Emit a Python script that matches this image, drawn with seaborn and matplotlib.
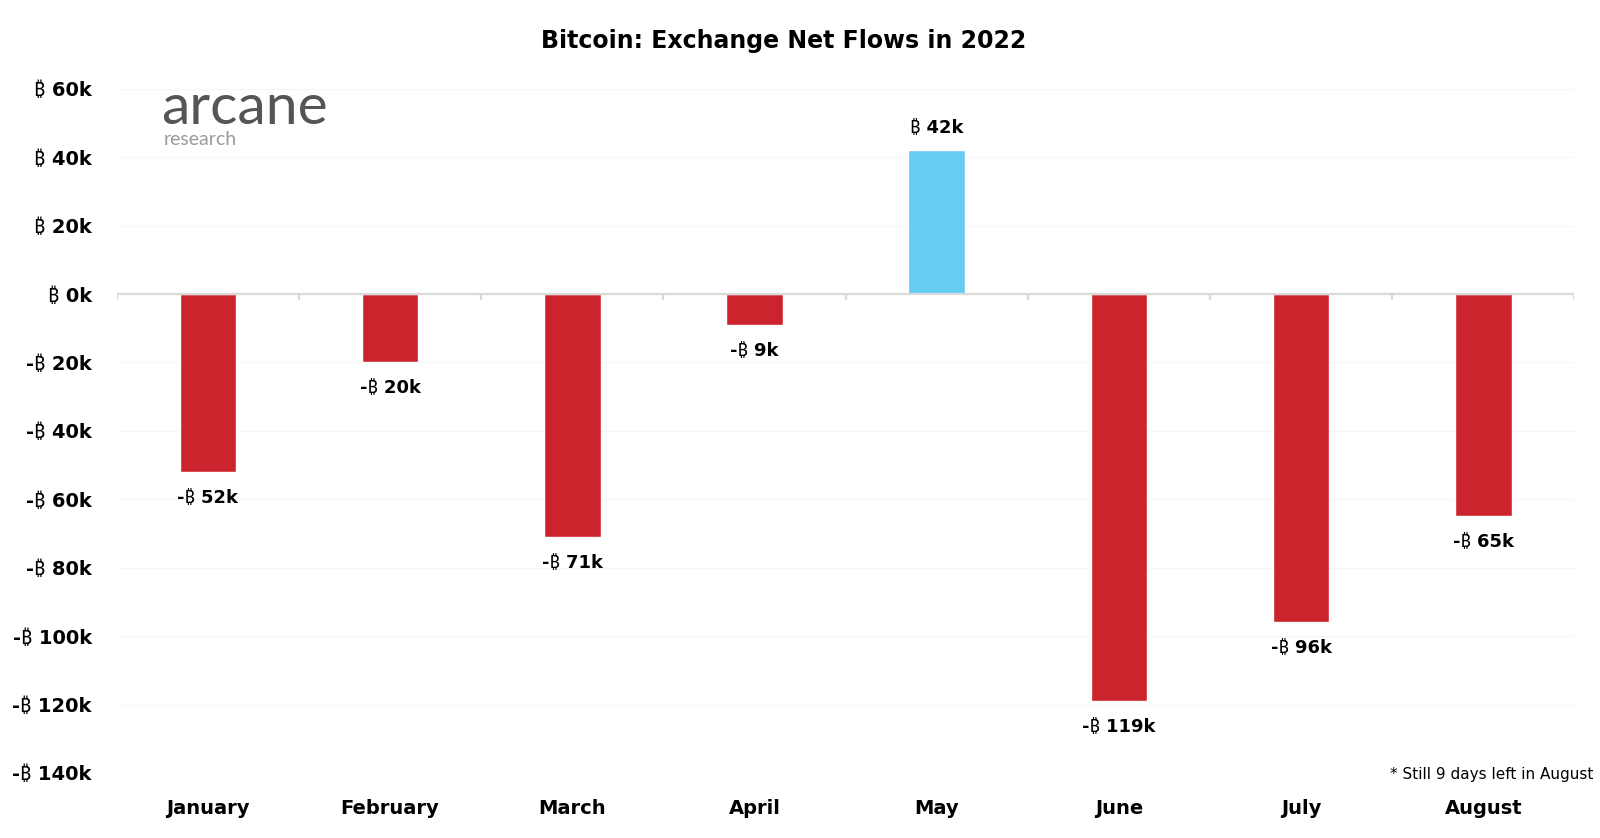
import matplotlib
matplotlib.use("Agg")
import matplotlib.pyplot as plt
import seaborn as sns
import pandas as pd

months = ["January", "February", "March", "April", "May", "June", "July", "August"]
net_flows_k = [-52, -20, -71, -9, 42, -119, -96, -65]
y_ticks_k = [60, 40, 20, 0, -20, -40, -60, -80, -100, -120, -140]
title = "Bitcoin: Exchange Net Flows in 2022"
footnote = "* Still 9 days left in August"

RED = "#CC232C"
BLUE = "#66CCF2"

sns.set_theme(style="white")
plt.rcParams['font.family'] = ['DejaVu Sans', 'Noto Sans']

df = pd.DataFrame({"month": months, "flow": net_flows_k})
df["sign"] = ["pos" if v > 0 else "neg" for v in net_flows_k]

fig = plt.figure(figsize=(16, 8.38), dpi=100)
ax = fig.add_axes([0.073, 0.0776, 0.911, 0.8164])

sns.barplot(data=df, x="month", y="flow", hue="sign", palette={"pos": BLUE, "neg": RED},
            dodge=False, width=0.31, legend=False, ax=ax, saturation=1)

ax.set_ylim(-140, 60)
ax.set_xlim(-0.5, len(months) - 0.5)
ax.set_yticks(y_ticks_k)

def fmt(v):
    return ("-" if v < 0 else "") + "\u20bf " + f"{abs(v)}k"

ax.set_yticklabels([fmt(v) for v in y_ticks_k], fontsize=14, fontweight="bold", color="black")
ax.tick_params(axis="y", length=0, pad=18)
ax.set_xticks(range(len(months)))
ax.set_xticklabels(months, fontsize=14, fontweight="bold", color="black")
ax.tick_params(axis="x", length=0, pad=19)
ax.set_xlabel("")
ax.set_ylabel("")

for s in ax.spines.values():
    s.set_visible(False)

ax.yaxis.grid(True, color="#f6f6f6", linewidth=0.8)
ax.set_axisbelow(True)
ax.axhline(0, color="#d9d9d9", linewidth=1.6, zorder=3)
for b in range(len(months) + 1):
    ax.plot([b - 0.5, b - 0.5], [0, -1.8], color="#d9d9d9", linewidth=1.6, zorder=3,
            solid_capstyle="butt")

for i, v in enumerate(net_flows_k):
    if v >= 0:
        ax.text(i, v + 6.5, fmt(v), ha="center", va="center", fontsize=13,
                fontweight="bold", color="black")
    else:
        ax.text(i, v - 7.5, fmt(v), ha="center", va="center", fontsize=13,
                fontweight="bold", color="black")

fig.text(0.49, 0.951, title, ha="center", va="center", fontsize=17, fontweight="bold",
         color="black")
fig.text(0.996, 0.076, footnote, ha="right", va="center", fontsize=11, color="black")

fig.text(0.1005, 0.871, "arcane", ha="left", va="center", fontsize=41, color="#555555",
         family=["Lato", "DejaVu Sans"], fontweight="normal")
fig.text(0.1025, 0.834, "research", ha="left", va="center", fontsize=14, color="#9a9a9a",
         family=["Lato", "DejaVu Sans"], fontweight="normal")

fig.savefig("out.png", dpi=100, facecolor="white")
